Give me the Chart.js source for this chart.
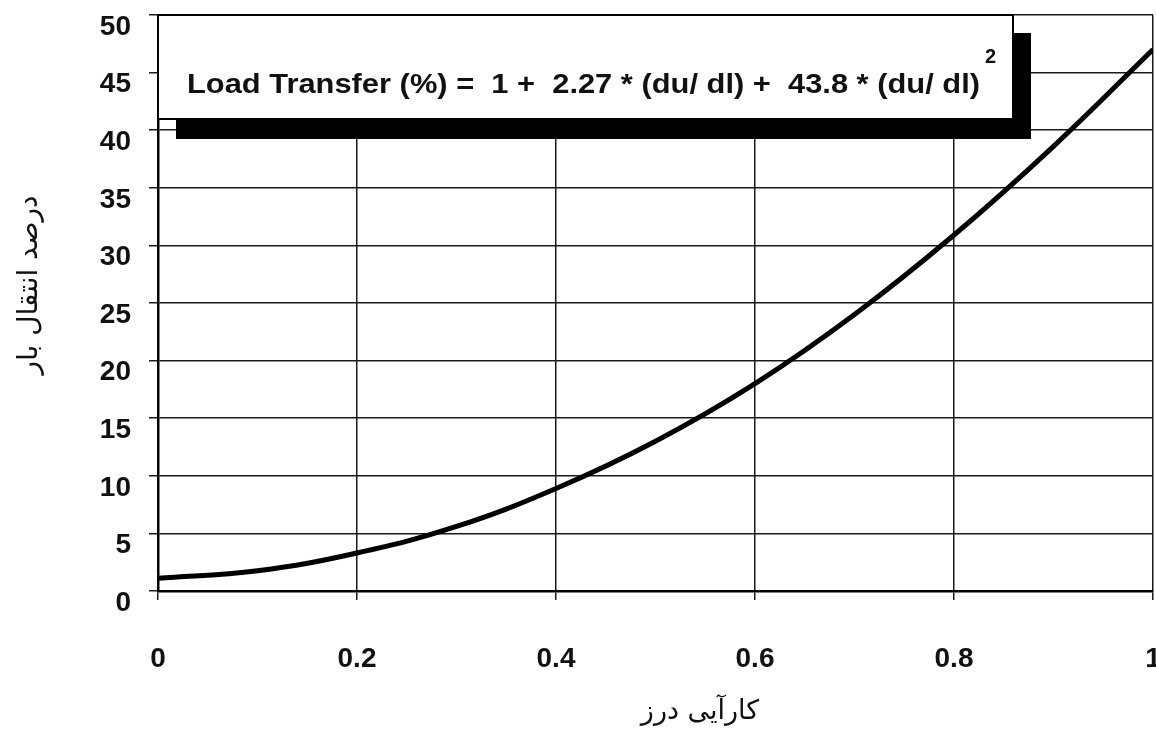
<!DOCTYPE html>
<html>
<head>
<meta charset="utf-8">
<style>
  html, body { margin: 0; padding: 0; background: #fff; }
  #wrap { width: 1156px; height: 729px; position: relative; }
</style>
<script src="https://cdn.jsdelivr.net/npm/chart.js@4.4.0/dist/chart.umd.min.js"></script>
</head>
<body>
<div id="wrap"><canvas id="chart" width="1156" height="729"></canvas></div>
<script>
// joint efficiency (du/dl) and load transfer values
const efficiency = [0, 0.1, 0.2, 0.3, 0.4, 0.5, 0.6, 0.7, 0.8, 0.9, 1.0];
const loadTransfer = [1.1, 1.75, 3.3, 5.6, 8.9, 13.0, 18.0, 24.0, 30.9, 38.6, 47.0];
const xTicks = [0, 0.2, 0.4, 0.6, 0.8, 1];
const yTicks = [0, 5, 10, 15, 20, 25, 30, 35, 40, 45, 50];
const xTitle = 'کارآیی درز';
const yTitle = 'درصد انتقال بار';
const equationText = 'Load Transfer (%) =  1 +  2.27 * (du/ dl) +  43.8 * (du/ dl)';

const tickFont = { family: '"Liberation Sans", Arial, sans-serif', size: 28, weight: 'bold' };

// equation box + axis titles
const overlayPlugin = {
    id: 'overlay',
    afterDatasetsDraw(chart) {
        const ctx = chart.ctx;
        const area = chart.chartArea;
        const bx = area.left, by = area.top;
        const bw = 855, bh = 104;

        ctx.save();
        // shadow
        ctx.fillStyle = '#000';
        ctx.fillRect(bx + 18, by + 18, bw, bh + 2);
        // box
        ctx.fillStyle = '#fff';
        ctx.fillRect(bx, by, bw, bh);
        ctx.strokeStyle = '#000';
        ctx.lineWidth = 2;
        ctx.strokeRect(bx, by, bw, bh);

        // equation text, squeezed to the original width
        ctx.fillStyle = '#111';
        ctx.font = 'bold 28px "Liberation Sans", Arial, sans-serif';
        ctx.textBaseline = 'alphabetic';
        ctx.textAlign = 'left';
        const w = ctx.measureText(equationText).width;
        const targetW = 793;
        ctx.save();
        ctx.translate(bx + 29, by + 78);
        ctx.scale(targetW / w, 1);
        ctx.fillText(equationText, 0, 0);
        ctx.restore();
        ctx.font = 'bold 20px "Liberation Sans", Arial, sans-serif';
        ctx.fillText('2', bx + 827, by + 48);
        ctx.restore();
    },
    afterDraw(chart) {
        const ctx = chart.ctx;
        ctx.save();
        ctx.fillStyle = '#111';
        ctx.font = '27px "DejaVu Sans", sans-serif';
        ctx.textAlign = 'center';
        ctx.textBaseline = 'middle';
        ctx.direction = 'rtl';
        ctx.fillText(xTitle, 700, 712);
        ctx.translate(30, 285);
        ctx.rotate(-Math.PI / 2);
        ctx.font = '28px "DejaVu Sans", sans-serif';
        ctx.fillText(yTitle, 0, 0);
        ctx.restore();
    }
};

const bgPlugin = {
    id: 'bg',
    beforeDraw(chart) {
        const ctx = chart.ctx;
        ctx.save();
        ctx.fillStyle = '#fff';
        ctx.fillRect(0, 0, chart.width, chart.height);
        ctx.restore();
    }
};

new Chart(document.getElementById('chart').getContext('2d'), {
    type: 'scatter',
    data: {
        datasets: [{
            label: 'Load Transfer',
            data: efficiency.map((x, i) => ({ x: x, y: loadTransfer[i] })),
            showLine: true,
            borderColor: '#000',
            borderWidth: 5,
            pointRadius: 0,
            tension: 0.4,
            fill: false
        }]
    },
    options: {
        responsive: false,
        animation: false,
        layout: { padding: { left: 0, right: 3, top: 15, bottom: 0 } },
        plugins: {
            legend: { display: false },
            tooltip: { enabled: false }
        },
        scales: {
            x: {
                type: 'linear',
                min: 0,
                max: 1,
                afterBuildTicks: s => { s.ticks = xTicks.map(v => ({ value: v })); },
                afterFit: s => { s.height = 138; s.paddingLeft = 0; s.paddingRight = 0; },
                grid: { color: '#1a1a1a', lineWidth: 1.5, tickLength: 9, drawTicks: true },
                border: { display: true, color: '#000', width: 2.5 },
                ticks: {
                    color: '#111',
                    font: tickFont,
                    padding: 42,
                    maxRotation: 0,
                    callback: v => String(v)
                }
            },
            y: {
                min: 0,
                max: 50,
                afterBuildTicks: s => { s.ticks = yTicks.map(v => ({ value: v })); },
                afterFit: s => { s.width = 158; s.paddingTop = 0; s.paddingBottom = 0; },
                grid: { color: '#1a1a1a', lineWidth: 1.5, tickLength: 9, drawTicks: true },
                border: { display: true, color: '#000', width: 2.5 },
                ticks: {
                    color: '#111',
                    font: tickFont,
                    padding: 18,
                    labelOffset: 12
                }
            }
        }
    },
    plugins: [bgPlugin, overlayPlugin]
});
</script>
</body>
</html>
